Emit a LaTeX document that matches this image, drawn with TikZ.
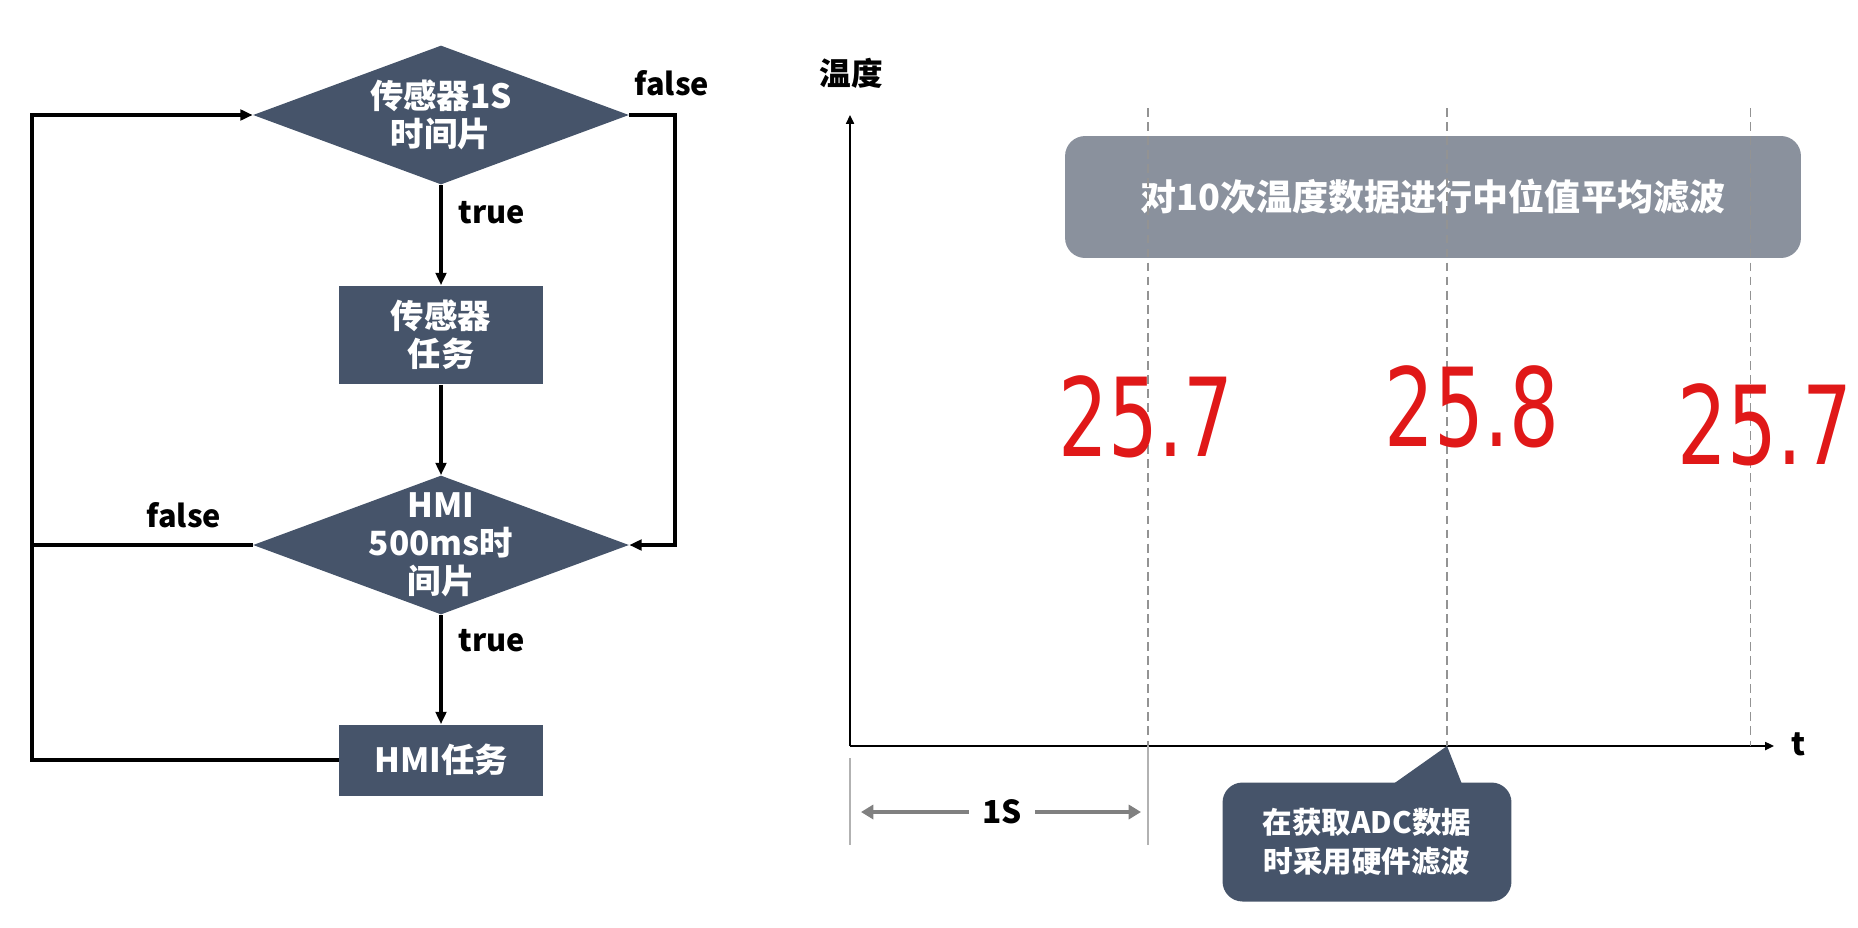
\documentclass[tikz,border=0pt]{standalone}
\usepackage{fontspec}
\setmainfont{Noto Sans CJK SC}
\newfontfamily\handfont[FakeStretch=0.72]{DejaVu Sans}
\usetikzlibrary{shapes.geometric,arrows.meta,calc}
\definecolor{slate}{HTML}{46546A}
\definecolor{fog}{HTML}{8A919D}
\definecolor{pen}{HTML}{E01818}
\begin{document}
\begin{tikzpicture}[x=0.02cm,y=-0.02cm,
    decision/.style ={diamond, fill=slate, inner sep=0pt, minimum width=7.52cm, minimum height=2.78cm},
    dectext/.style ={text=white, font=\fontsize{19}{21.5}\selectfont\bfseries, align=center},
    task/.style ={rectangle, fill=slate, text=white, font=\fontsize{19}{21.5}\selectfont\bfseries,
                  align=center, inner sep=0pt, minimum width=4.08cm},
    flow/.style ={line width=2pt, -{Triangle[length=7pt,width=6pt]}},
    wire/.style ={line width=2pt},
    cond/.style ={font=\fontsize{17.5}{20}\selectfont\bfseries, inner sep=1pt},
    axis/.style ={line width=1.1pt, -{Triangle[length=5pt,width=4.5pt]}},
    grid/.style ={gray!85, line width=0.6pt, dash pattern=on 5pt off 3pt},
    tick/.style ={gray!60, line width=0.6pt},
    spanarrow/.style ={gray, line width=2.8pt, -{Triangle[length=7pt,width=8pt]}},
    panel/.style ={rectangle, rounded corners=0.4cm, fill=fog, text=white,
                   font=\fontsize{20.5}{24}\selectfont\bfseries},
    bubble/.style ={rectangle, rounded corners=0.4cm, fill=slate, text=white, align=center,
                    font=\fontsize{16.8}{22}\selectfont\bfseries},
    hand/.style ={text=pen, font=\handfont\fontsize{62}{62}\selectfont}]
   \useasboundingbox (0,0) rectangle (1858,927);
   % flow chart
   \node[decision, label={[dectext]center:传感器1S\\时间片}] (d1) at (441,115) {};
   \node[task, minimum height=1.98cm] (sensor) at (441,335) {传感器\\任务};
   \node[decision, label={[dectext]center:HMI\\500ms时\\间片}] (d2) at (441,545) {};
   \node[task, minimum height=1.42cm] (hmi) at (441,760) {HMI任务};
   \coordinate (lft) at (32,760);
   \coordinate (rgt) at (675,115);
   \draw[flow] (d1) to node[cond, pos=0.28, right=8pt] (t1) {true} (sensor);
   \draw[flow] (sensor) to (d2);
   \draw[flow] (d2) to node[cond, pos=0.24, right=8pt] (t2) {true} (hmi);
   \draw[flow] (d1.east) -- (rgt) |- (d2.east);
   \draw[flow] (hmi.west) -- (lft) |- (d1.west);
   \draw[wire] (d2.west) -- (d2.west -| lft);
   \node[cond] (f1) at (672,83) {false};
   \node[cond] (f2) at (184,515) {false};
   % time axis
   \node[panel, minimum width=14.72cm, minimum height=2.44cm] (median) at (1433,197) {对10次温度数据进行中位值平均滤波};
   \coordinate (o) at (850,746);
   \coordinate (ytop) at (850,115);
   \coordinate (xend) at (1774,746);
   \draw[axis] (o) -- (ytop);
   \draw[axis] (o) -- (xend);
   \node[cond, font=\fontsize{18}{20}\selectfont\bfseries] (ylab) at (851,73) {温度};
   \node[cond, font=\fontsize{18}{20}\selectfont\bfseries] (tlab) at (1799,744) {t};
   \foreach \x in {1148,1447,1750}
      \draw[grid] (\x,108) -- (\x,746);
   \draw[tick] (850,758) -- (850,845);
   \draw[tick] (1148,746) -- (1148,845);
   \node[cond, font=\fontsize{18}{20}\selectfont\bfseries, minimum width=1.32cm, inner sep=0pt] (span) at (1002,812) {1S};
   \coordinate (sL) at (861,812);
   \coordinate (sR) at (1141,812);
   \draw[spanarrow] (span.west) -- (sL);
   \draw[spanarrow] (span.east) -- (sR);
   \node[bubble, minimum width=5.78cm, minimum height=2.38cm] (adc) at (1367,842) {在获取ADC数据\\时采用硬件滤波};
   \fill[slate] ($(adc.north)+(26,2)$) -- (1447,746) -- ($(adc.north)+(95,2)$) -- cycle;
   % readings
   \node[hand] (r1) at (1146,417) {25.7};
   \node[hand] (r2) at (1472,407) {25.8};
   \node[hand] (r3) at (1765,425) {25.7};
\end{tikzpicture}
\end{document}
